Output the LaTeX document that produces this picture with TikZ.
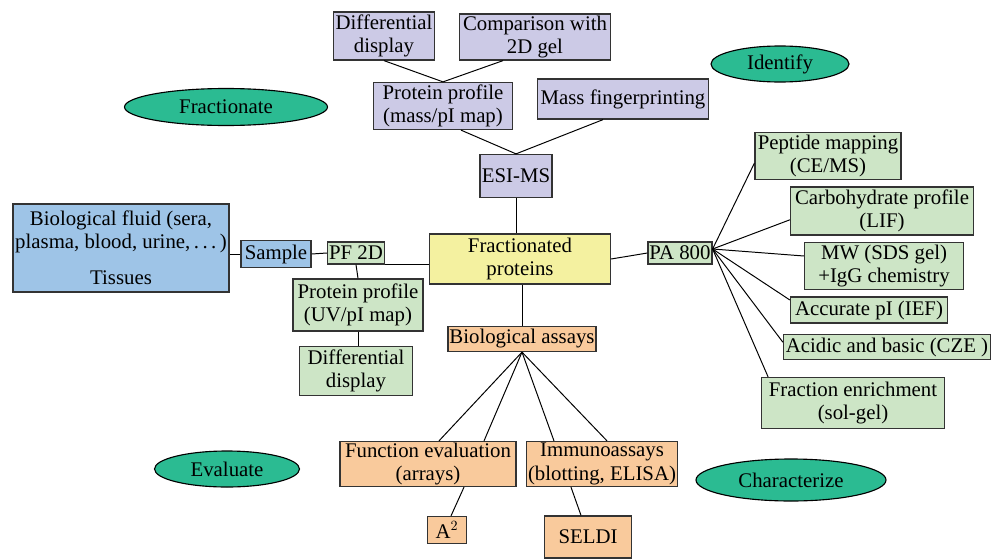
\documentclass[tikz,border=0pt]{standalone}
\usepackage{fontspec}
\setmainfont{Liberation Serif}
\usepackage{tikz}
\usetikzlibrary{shapes.geometric}
\definecolor{lavbox}{RGB}{204,202,230}
\definecolor{bluebox}{RGB}{158,196,231}
\definecolor{greenbox}{RGB}{205,229,198}
\definecolor{yellowbox}{RGB}{244,241,160}
\definecolor{orangebox}{RGB}{249,202,156}
\definecolor{tealell}{RGB}{43,187,146}

\begin{document}
\begin{tikzpicture}[x=0.025cm, y=-0.025cm,
  box/.style={draw=black!80, line width=0.9pt, align=center, inner sep=1pt,
    font=\fontsize{14.8}{16.5}\selectfont},
  sz/.style 2 args={minimum width=#1*0.025cm, minimum height=#2*0.025cm},
  lavnode/.style={box, fill=lavbox},
  bluenode/.style={box, fill=bluebox},
  greennode/.style={box, fill=greenbox},
  yellownode/.style={box, fill=yellowbox},
  orangenode/.style={box, fill=orangebox},
  goal/.style={ellipse, draw=black, line width=0.8pt, fill=tealell, inner sep=0pt,
    font=\fontsize{14.8}{16.5}\selectfont},
  link/.style={draw=black, line width=0.7pt}]
  \useasboundingbox (0,0) rectangle (992,559);
  % goals
  \node [goal, sz={203}{37}] (Frac) at (226, 107) {Fractionate};
  \node [goal, sz={138}{36}] (Iden) at (780, 64) {Identify};
  \node [goal, sz={145}{36}] (Eval) at (227, 469) {Evaluate};
  \node [goal, sz={190}{42}] (Char) at (791, 480) {Characterize};
  % mass spectrometry branch
  \node [lavnode, sz={101}{48}] (DiffT) at (384, 36) {Differential\\display};
  \node [lavnode, sz={151}{46}] (Cmp) at (535, 37) {Comparison with\\2D gel};
  \node [lavnode, sz={139}{47}] (PPM) at (443, 106) {Protein profile\\(mass/pI map)};
  \node [lavnode, sz={171}{40}] (MFP) at (623, 99) {Mass fingerprinting};
  \node [lavnode, sz={72}{43}] (ESI) at (516, 176) {ESI-MS};
  % sample and fractionation
  \node [bluenode, sz={216}{88}] (Fluid) at (121, 248)
    {Biological fluid (sera,\\plasma, blood, urine,\,.\,.\,.\,)\\[9pt]Tissues};
  \node [bluenode, sz={70}{27}] (Smp) at (276, 254) {Sample};
  \node [greennode, sz={57}{22}] (PF) at (356, 253) {PF 2D};
  \node [yellownode, sz={181}{50}] (FP) at (520, 259) {Fractionated\\proteins};
  \node [greennode, sz={130}{52}] (PUV) at (358, 305) {Protein profile\\(UV/pI map)};
  \node [greennode, sz={113}{49}] (DiffB) at (356, 371) {Differential\\display};
  % characterization branch
  \node [greennode, sz={63}{22}] (PA) at (680, 253) {PA 800};
  \node [greennode, sz={146}{47}] (Pep) at (828, 156) {Peptide mapping\\(CE/MS)};
  \node [greennode, sz={183}{48}] (Carb) at (882, 211) {Carbohydrate profile\\(LIF)};
  \node [greennode, sz={159}{47}] (MW) at (884, 266) {MW (SDS gel)\\+IgG chemistry};
  \node [greennode, sz={157}{26}] (API) at (869, 310) {Accurate pI (IEF)};
  \node [greennode, sz={207}{25}] (CZE) at (887, 347) {Acidic and basic (CZE )};
  \node [greennode, sz={183}{51}] (Enr) at (853, 403) {Fraction enrichment\\(sol-gel)};
  % assays branch
  \node [orangenode, sz={147}{25}] (BA) at (522, 339) {Biological assays};
  \node [orangenode, sz={176}{45}] (FE) at (428, 464) {Function evaluation\\(arrays)};
  \node [orangenode, sz={151}{45}] (IA) at (602, 464) {Immunoassays\\(blotting, ELISA)};
  \node [orangenode, sz={39}{27}] (A2) at (447, 530) {A$^2$};
  \node [orangenode, sz={87}{42}] (SEL) at (588, 537) {SELDI};
  % connectors
  \draw [link] (DiffT.south) -- (PPM.north);
  \draw [link] ([xshift=-0.8cm]Cmp.south) -- (PPM.north);
  \draw [link] ([xshift=0.45cm]PPM.south) -- (ESI.north);
  \draw [link] ([xshift=-0.5cm]MFP.south) -- (ESI.north);
  \draw [link] (ESI.south) -- (ESI.south |- FP.north);
  \draw [link] (Smp.west) -- (Smp.west -| Fluid.east);
  \draw [link] (Smp.east) -- (PF.west);
  \draw [link] (PF.south east) -- (PF.south east -| FP.west);
  \draw [link] (PF.south) -- (PUV.north);
  \draw [link] (PUV.south) -- (PUV.south |- DiffB.north);
  \draw [link] (FP.east) -- (PA.west);
  \coordinate (PAo) at ([yshift=0.1cm]PA.east);
  \draw [link] (PAo) -- ([yshift=-0.18cm]Pep.west);
  \draw [link] (PAo) -- ([yshift=-0.22cm]Carb.west);
  \draw [link] (PAo) -- ([yshift=0.25cm]MW.west);
  \draw [link] (PAo) -- ([yshift=0.25cm]API.west);
  \draw [link] (PAo) -- ([yshift=0.12cm]CZE.west);
  \draw [link] (PAo) -- ([xshift=0.18cm]Enr.north west);
  \draw [link] (BA.north |- FP.south) -- (BA.north);
  \draw [link] (BA.south) -- ([xshift=0.275cm]FE.north);
  \draw [link] (BA.south) -- ([xshift=1.4cm]FE.north);
  \draw [link] (BA.south) -- ([xshift=-1.2cm]IA.north);
  \draw [link] (BA.south) -- ([xshift=0.125cm]IA.north);
  \draw [link] ([xshift=0.9cm]FE.south) -- ([xshift=0.1cm]A2.north);
  \draw [link] ([xshift=-0.775cm]IA.south) -- ([xshift=-0.175cm]SEL.north);
\end{tikzpicture}
\end{document}
